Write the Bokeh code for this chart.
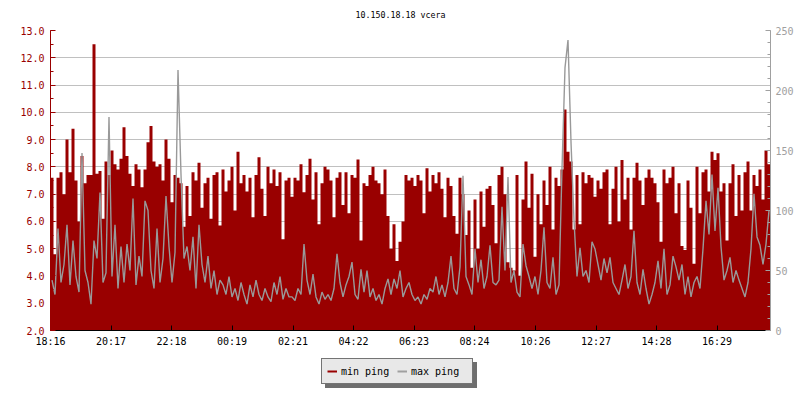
from bokeh.plotting import figure
from bokeh.layouts import column
from bokeh.models import (Range1d, LinearAxis, FixedTicker, SingleIntervalTicker,
                          Legend, LegendItem, PrintfTickFormatter)
from bokeh.embed import file_html
from bokeh.resources import INLINE

title_text = "10.150.18.18 vcera"
tick_labels = ["18:16", "20:17", "22:18", "00:19", "02:21", "04:22",
               "06:23", "08:24", "10:26", "12:27", "14:28", "16:29"]
start_label = "18:16"
step_minutes = 6
series_names = ["min ping", "max ping"]

min_ping = [
    7.6, 4.8, 7.6, 7.8, 7.0, 9.0, 7.8, 9.4, 7.5, 6.0,
    8.4, 7.4, 7.7, 7.7, 12.5, 7.75, 7.85, 6.1, 8.2, 7.7,
    8.6, 8.1, 7.9, 8.3, 9.45, 8.4, 7.75, 7.3, 8.1, 7.9,
    7.25, 7.9, 8.9, 9.5, 8.2, 8.0, 8.1, 7.5, 9.0, 8.3,
    6.7, 7.7, 7.6, 7.4, 5.8, 7.3, 6.2, 7.8, 7.5, 8.15,
    6.5, 7.4, 7.6, 6.1, 7.7, 7.8, 5.85, 7.9, 7.1, 7.5,
    8.0, 6.4, 8.55, 7.4, 7.7, 7.1, 7.6, 6.15, 7.7, 8.35,
    7.2, 6.2, 8.0, 7.4, 7.9, 7.3, 7.8, 5.35, 7.5, 7.6,
    6.9, 7.6, 7.5, 8.1, 7.07, 7.7, 8.3, 6.8, 7.8, 5.9,
    7.4, 8.0, 7.9, 7.5, 6.15, 7.6, 7.8, 6.6, 7.8, 6.3,
    7.7, 7.6, 8.27, 5.3, 7.4, 7.3, 7.7, 8.0, 7.5, 7.4,
    7.0, 7.9, 6.2, 5.0, 5.9, 4.55, 5.25, 6.0, 7.7, 7.5,
    7.6, 7.3, 7.7, 7.5, 6.3, 7.95, 7.1, 7.7, 7.4, 7.8,
    7.2, 6.15, 7.6, 7.3, 6.2, 5.55, 7.6, 7.0, 5.5, 6.4,
    4.3, 6.8, 5.0, 7.1, 5.8, 7.2, 7.3, 6.6, 5.2, 7.7,
    8.0, 7.0, 4.5, 4.3, 4.2, 7.7, 4.0, 6.8, 8.2, 6.5,
    7.75, 4.7, 7.0, 5.9, 7.5, 6.6, 8.0, 5.7, 7.6, 7.3,
    7.9, 10.1, 8.55, 8.2, 5.7, 7.7, 5.9, 7.8, 7.4, 7.7,
    7.6, 6.9, 7.5, 7.2, 7.8, 7.9, 5.9, 7.2, 8.0, 6.0,
    8.25, 6.8, 7.6, 5.7, 7.6, 8.15, 7.5, 6.6, 7.6, 7.9,
    7.6, 7.4, 6.7, 5.25, 7.9, 7.4, 7.6, 8.0, 6.3, 7.4,
    5.1, 4.95, 7.5, 6.5, 4.45, 8.0, 6.3, 7.8, 7.9, 7.1,
    8.55, 8.25, 8.5, 7.1, 7.4, 5.3, 7.4, 8.1, 6.2, 7.7,
    6.4, 7.8, 8.2, 6.4, 7.7, 7.3, 7.9, 6.8, 8.6, 8.1,
]

max_ping = [
    42, 30, 85, 40, 55, 88, 38, 75, 45, 32,
    148, 50, 40, 22, 75, 60, 115, 40, 48, 178,
    45, 88, 35, 70, 40, 72, 50, 110, 38, 62,
    45, 108, 100, 50, 35, 85, 40, 60, 112, 70,
    40, 65, 217, 130, 60, 70, 50, 78, 35, 88,
    55, 40, 62, 35, 50, 30, 42, 38, 30, 45,
    28, 35, 25, 40, 30, 22, 38, 28, 42, 30,
    25, 35, 28, 24, 40, 30, 45, 26, 35, 28,
    28, 25, 35, 30, 72, 42, 30, 47, 28, 22,
    32, 26, 30, 25, 35, 64, 40, 28, 38, 45,
    57, 30, 26, 51, 32, 50, 28, 35, 25, 30,
    22, 35, 43, 30, 43, 35, 50, 28, 35, 40,
    30, 25, 28, 22, 30, 26, 35, 32, 45, 30,
    38, 28, 40, 62, 35, 30, 53, 129, 45, 38,
    30, 68, 40, 59, 35, 45, 71, 40, 38, 42,
    103, 50, 128, 40, 50, 32, 28, 72, 54, 45,
    35, 45, 30, 50, 86, 40, 35, 61, 30, 38,
    135, 219, 242, 157, 92, 45, 69, 45, 50, 40,
    74, 68, 55, 42, 60, 48, 61, 40, 35, 30,
    42, 55, 35, 45, 83, 40, 30, 51, 35, 22,
    30, 40, 58, 35, 68, 30, 38, 62, 53, 42,
    55, 30, 45, 28, 40, 45, 35, 68, 108, 80,
    130, 83, 119, 70, 42, 50, 61, 40, 50, 42,
    35, 28, 40, 68, 114, 78, 71, 55, 72, 100,
]

RED = "#990000"
GRAY = "#999999"
AXGRAY = "#a0a0a0"
SHADOW = "#6e6e6e"
FONT = "DejaVu Sans Mono"


def to_minutes(label):
    h, m = map(int, label.split(":"))
    h0, m0 = map(int, start_label.split(":"))
    return ((h * 60 + m) - (h0 * 60 + m0)) % 1440


tick_pos = [to_minutes(l) for l in tick_labels]
n = len(min_ping)
span = step_minutes * n
t_mid = [step_minutes * i + step_minutes / 2 for i in range(n)]
t_edge = [step_minutes * i for i in range(n + 1)]

# ---------------- main chart ----------------
p = figure(width=800, height=355, output_backend="svg", toolbar_location=None,
           x_range=Range1d(0, span), y_range=Range1d(2, 13),
           min_border_left=50, min_border_right=30, min_border_top=30,
           min_border_bottom=25)
p.extra_y_ranges = {"right": Range1d(0, 250)}
p.outline_line_color = None
p.background_fill_color = "white"
p.border_fill_color = "white"

p.title.text = title_text
p.title.align = "left"
p.title.offset = 305
p.title.vertical_align = "top"
p.title.text_font = FONT
p.title.text_font_size = "8.3px"
p.title.text_font_style = "normal"
p.title.text_color = "black"
p.title.standoff = 18

p.xgrid.visible = False
p.ygrid.grid_line_color = "#c0c0c0"
p.ygrid.grid_line_width = 1

p.varea_step(x=t_edge, y1=[2] * (n + 1), y2=min_ping + [min_ping[-1]],
             step_mode="after", fill_color=RED)
p.line(x=t_mid, y=max_ping, y_range_name="right",
       line_color=GRAY, line_width=1.4)

xa = p.xaxis[0]
xa.ticker = FixedTicker(ticks=tick_pos, minor_ticks=[])
xa.major_label_overrides = {tp: lab for tp, lab in zip(tick_pos, tick_labels)}
xa.axis_line_color = "black"
xa.major_tick_in = 5
xa.major_tick_out = 0
xa.minor_tick_line_color = None
xa.major_label_text_font = FONT
xa.major_label_text_font_size = "10px"
xa.major_label_text_color = "black"
xa.major_label_standoff = 5

ya = p.yaxis[0]
ya.ticker = SingleIntervalTicker(interval=1, num_minor_ticks=2)
ya.formatter = PrintfTickFormatter(format="%.1f")
ya.axis_line_color = RED
ya.major_tick_line_color = RED
ya.minor_tick_line_color = RED
ya.major_tick_in = 5
ya.major_tick_out = 0
ya.minor_tick_in = 3
ya.minor_tick_out = 0
ya.major_label_text_font = FONT
ya.major_label_text_font_size = "10px"
ya.major_label_text_color = RED
ya.major_label_standoff = 6

ra = LinearAxis(y_range_name="right",
                ticker=SingleIntervalTicker(interval=50, num_minor_ticks=5))
ra.axis_line_color = AXGRAY
ra.major_tick_line_color = AXGRAY
ra.minor_tick_line_color = AXGRAY
ra.major_tick_in = 5
ra.major_tick_out = 0
ra.minor_tick_in = 3
ra.minor_tick_out = 0
ra.major_label_text_font = FONT
ra.major_label_text_font_size = "10px"
ra.major_label_text_color = AXGRAY
ra.major_label_standoff = 5
p.add_layout(ra, "right")

# ---------------- legend strip ----------------
q = figure(width=800, height=45, output_backend="svg", toolbar_location=None,
           x_range=Range1d(0, 1), y_range=Range1d(0, 1),
           x_axis_location=None, y_axis_location=None, min_border=0)
q.outline_line_color = None
q.grid.visible = False
q.background_fill_color = "white"
q.border_fill_color = "white"

nan = float("nan")
sw_min = q.line(x=[nan, nan], y=[nan, nan], line_color=RED, line_width=2)
sw_max = q.line(x=[nan, nan], y=[nan, nan], line_color=AXGRAY, line_width=2)
sw_shadow = q.line(x=[nan, nan], y=[nan, nan], line_color=SHADOW, line_width=2)

common = dict(orientation="horizontal", padding=5, spacing=0, margin=0,
              glyph_width=10, glyph_height=14, label_height=14,
              label_standoff=4, label_text_font=FONT,
              label_text_font_size="10px", label_text_color="black",
              background_fill_alpha=1)

# drop shadow: a label-less box of the same size, offset down-right
shadow = Legend(items=[LegendItem(label="", renderers=[sw_shadow])],
                location=(275, 12), label_width=126,
                background_fill_color=SHADOW, border_line_color=SHADOW,
                **common)
main = Legend(items=[LegendItem(label=series_names[0], renderers=[sw_min]),
                     LegendItem(label=series_names[1], renderers=[sw_max])],
              location=(271, 16), label_width=56,
              background_fill_color="#e8e8e8", border_line_color="black",
              border_line_width=1, **common)
q.add_layout(shadow, "center")
q.add_layout(main, "center")

layout = column(p, q, spacing=0)
open("out.html", "w").write(file_html(layout, INLINE))
